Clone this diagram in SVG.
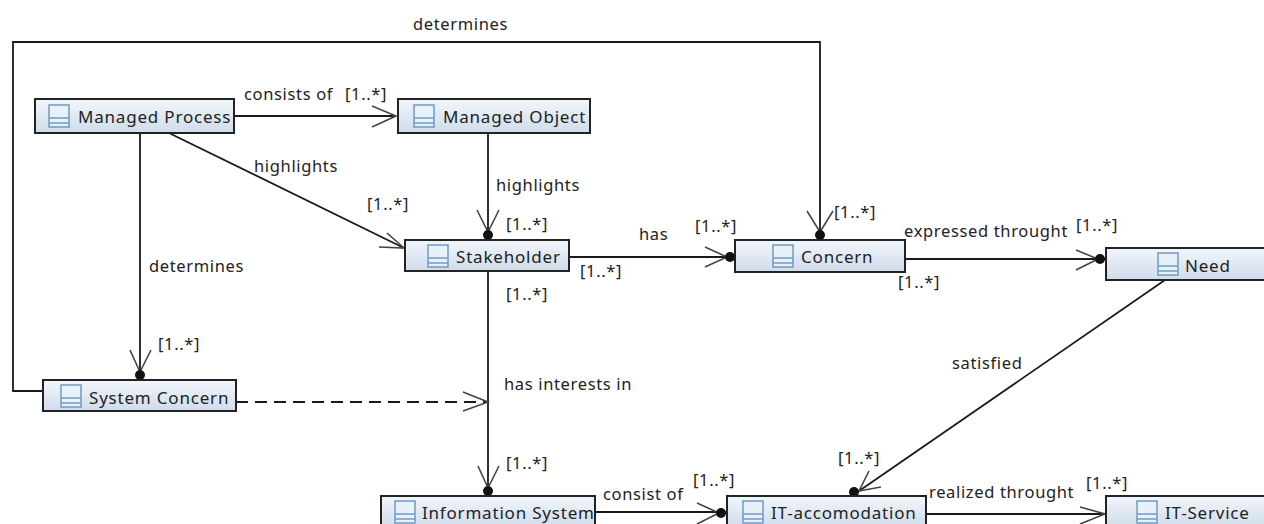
<svg xmlns="http://www.w3.org/2000/svg" width="1264" height="524" viewBox="0 0 1264 524">
<style>
text{font-family:"Noto Sans","DejaVu Sans",sans-serif;font-size:16.5px;fill:#222;letter-spacing:.65px}
text.t{font-size:17px;letter-spacing:.8px}
.n{fill:url(#g);stroke:#222;stroke-width:2}
.c{fill:none;stroke:#1a1a1a;stroke-width:1.8}
.h{fill:none;stroke:#444;stroke-width:1.6}
.d{fill:#111}
.i{fill:#e8f0f8;stroke:#6f9ac6;stroke-width:1.5}
</style>
<defs>
<linearGradient id="g" x1="0" y1="0" x2="0" y2="1"><stop offset="0" stop-color="#f2f6fb"/><stop offset="1" stop-color="#cfdcea"/></linearGradient>
<g id="ic"><rect class="i" x="0" y="0" width="20" height="22"/><path class="i" d="M0 13H20M0 18H20"/></g>
</defs>
<rect width="1264" height="524" fill="#fff"/>
<g id="connectors">
<path class="c" d="M43 391H13V42H820V240"/>
<path class="h" d="M807 211L820 232L833 211"/><circle class="d" cx="820" cy="235" r="5"/>
<path class="c" d="M234 116H396"/><path class="h" d="M372 106L396 116L372 127"/>
<path class="c" d="M488 133V240"/><path class="h" d="M477 210L488 232L499 210"/><circle class="d" cx="488" cy="235" r="5"/>
<path class="c" d="M169 133L404 248"/><path class="h" d="M387 233L404 248L379 247"/>
<path class="c" d="M140 133V380"/><path class="h" d="M130 350L140 372L151 350"/><circle class="d" cx="140" cy="375" r="5"/>
<path class="c" d="M569 257H735"/><path class="h" d="M705 247L727 257L705 267"/><circle class="d" cx="730" cy="257" r="5"/>
<path class="c" d="M905 259H1106"/><path class="h" d="M1076 250L1098 259L1076 270"/><circle class="d" cx="1100" cy="259" r="5"/>
<path class="c" d="M488 271V496"/><path class="h" d="M478 466L488 488L499 466"/><circle class="d" cx="488" cy="491" r="5"/>
<path class="c" stroke-dasharray="12 7" d="M236 402H488"/><path class="h" d="M463 392L488 402L463 411"/>
<path class="c" d="M595 512H727"/><path class="h" d="M697 503L719 513L697 524"/><circle class="d" cx="721" cy="513" r="5"/>
<path class="c" d="M1165 280L859 491"/><path class="h" d="M869 471L859 491L881 487"/><circle class="d" cx="854" cy="492" r="5"/>
<path class="c" d="M926 514H1106"/><path class="h" d="M1080 507L1105 514L1080 524"/>
</g>
<g id="labels">
<text x="413" y="30">determines</text>
<text x="244" y="100">consists of</text><text x="345" y="100">[1..*]</text>
<text x="254" y="172">highlights</text><text x="367" y="210">[1..*]</text>
<text x="496" y="191">highlights</text><text x="506" y="230">[1..*]</text>
<text x="639" y="240">has</text><text x="695" y="232">[1..*]</text>
<text x="580" y="277">[1..*]</text><text x="506" y="300">[1..*]</text>
<text x="834" y="218">[1..*]</text><text x="904" y="237">expressed throught</text><text x="1076" y="231">[1..*]</text>
<text x="898" y="288">[1..*]</text>
<text x="149" y="272">determines</text><text x="158" y="350">[1..*]</text>
<text x="504" y="390">has interests in</text>
<text x="952" y="369">satisfied</text>
<text x="506" y="469">[1..*]</text><text x="603" y="500">consist of</text><text x="693" y="486">[1..*]</text>
<text x="838" y="464">[1..*]</text><text x="929" y="498">realized throught</text><text x="1086" y="489">[1..*]</text>
</g>
<g id="managed-process"><rect class="n" x="35" y="99" width="199" height="34"/><use href="#ic" x="49" y="105"/><text class="t" x="78" y="123">Managed Process</text></g>
<g id="managed-object"><rect class="n" x="398" y="99" width="192" height="34"/><use href="#ic" x="414" y="105"/><text class="t" x="443" y="123">Managed Object</text></g>
<g id="stakeholder"><rect class="n" x="405" y="240" width="164" height="31"/><use href="#ic" x="428" y="245"/><text class="t" x="456" y="263">Stakeholder</text></g>
<g id="concern"><rect class="n" x="735" y="240" width="170" height="32"/><use href="#ic" x="773" y="245"/><text class="t" x="801" y="263">Concern</text></g>
<g id="need"><rect class="n" x="1106" y="248" width="160" height="32"/><use href="#ic" x="1158" y="253"/><text class="t" x="1185" y="272">Need</text></g>
<g id="system-concern"><rect class="n" x="43" y="380" width="193" height="31"/><use href="#ic" x="61" y="385"/><text class="t" x="89" y="404">System Concern</text></g>
<g id="information-system"><rect class="n" x="381" y="496" width="214" height="32"/><use href="#ic" x="395" y="501"/><text class="t" x="422" y="519">Information System</text></g>
<g id="it-accomodation"><rect class="n" x="727" y="496" width="199" height="32"/><use href="#ic" x="743" y="501"/><text class="t" x="771" y="519">IT-accomodation</text></g>
<g id="it-service"><rect class="n" x="1106" y="496" width="160" height="32"/><use href="#ic" x="1137" y="501"/><text class="t" x="1165" y="519">IT-Service</text></g>
</svg>
